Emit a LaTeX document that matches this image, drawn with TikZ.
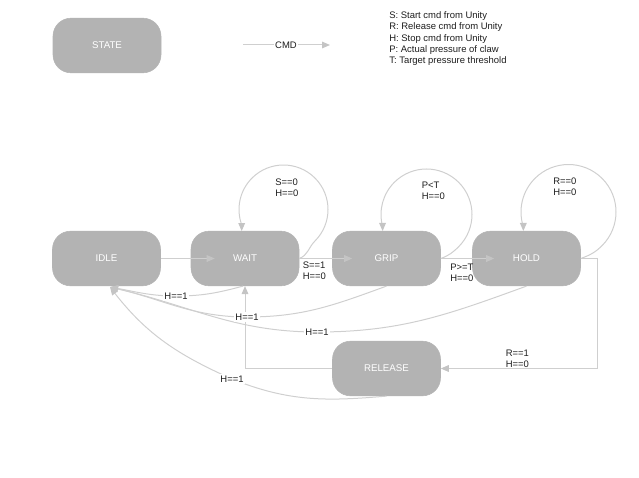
\documentclass[tikz,border=0pt]{standalone}
\usepackage{fontspec}
\setmainfont{Liberation Sans}
\usetikzlibrary{arrows.meta,calc}
\definecolor{nodegray}{HTML}{B3B3B3}
\definecolor{edgegray}{HTML}{CFCFCF}
\definecolor{tipgray}{HTML}{C4C4C4}
\definecolor{txt}{HTML}{1E1E1E}
\begin{document}
\begin{tikzpicture}[x=0.75pt,y=-0.75pt,
  statebox/.style={rectangle, rounded corners=13.5pt, fill=nodegray, draw=nodegray,
    minimum width=81pt, minimum height=41pt, inner sep=0pt, text=white,
    font=\fontsize{7.3}{8.5}\selectfont},
  edge/.style={draw=edgegray, line width=0.75pt, -{Triangle[length=6pt,width=5pt,color=tipgray]}},
  lbl/.style={font=\fontsize{7.1}{8.2}\selectfont, text=txt, align=left, inner sep=0pt},
  hlbl/.style={lbl, fill=white, inner sep=1pt},
]
\useasboundingbox (0,0) rectangle (639,478);

% legend
\node[statebox] (state) at (107,45.5) {STATE};
\coordinate (cmdA) at (243,45);
\coordinate (cmdB) at (330,45);
\draw[edge] (cmdA) -- (cmdB);
\node[hlbl] (cmd) at (286,45) {CMD};
\node[lbl, anchor=north west, font=\fontsize{7.1}{8.45}\selectfont] (legend) at (389,11.5)
  {S: Start cmd from Unity\\R: Release cmd from Unity\\H: Stop cmd from Unity\\P: Actual pressure of claw\\T: Target pressure threshold};

% states
\node[statebox] (idle) at (106.5,258.5) {IDLE};
\node[statebox] (wait) at (245,258.5) {WAIT};
\node[statebox] (grip) at (386.5,258.5) {GRIP};
\node[statebox] (hold) at (526.5,258.5) {HOLD};
\node[statebox] (release) at (386.5,368.5) {RELEASE};

% straight edges
\draw[edge] (idle.east) -- ($(wait.west)+(24,0)$);
\draw[edge] (wait.east) -- ($(grip.west)+(20,0)$);
\draw[edge] (grip.east) -- ($(hold.west)+(22,0)$);
\draw[edge] (hold.east) -- ++(17,0) |- (release.east);
\draw[edge] (release.west) -| (wait.south);

% self loops
\draw[edge] (wait.east) to[out=20,in=-135] (314.97,240.97)
  arc[start angle=45,end angle=-200,radius=44.5] -- ++(0,6.3);
\draw[edge] (grip.east) to[out=20,in=-135] (458.67,246.67)
  arc[start angle=45,end angle=-195,radius=45.5] -- ++(0,4.7);
\draw[edge] (hold.east) to[out=20,in=-135] (602.09,245.59)
  arc[start angle=45,end angle=-198,radius=47.5] -- ++(0,4.3);

% H==1 edges to IDLE
\coordinate (idleIn) at ($(idle.south)+(3.5,1)$);
\coordinate (w1) at (176,296);
\coordinate (g1) at (247,317);
\coordinate (h1) at (317,332);
\coordinate (r1) at (232,379);
\draw[edge] ($(wait.south)+(-2,0)$) to[out=-165,in=0] (w1) to[out=180,in=-10] (idleIn);
\draw[edge] (grip.south) to[out=-160,in=0] (g1) to[out=180,in=-13] (idleIn);
\draw[edge] (hold.south) to[out=-160,in=0] (h1) to[out=180,in=-13] (idleIn);
\draw[edge] (release.south) to[out=-175,in=-22] (r1) to[out=156,in=-52] (idleIn);

% labels
\node[hlbl] (lw1) at (w1) {H==1};
\node[hlbl] (lg1) at (g1) {H==1};
\node[hlbl] (lh1) at (h1) {H==1};
\node[hlbl] (lr1) at (r1) {H==1};
\node[lbl, anchor=west] (lwl) at (275,188) {S==0\\H==0};
\node[lbl, anchor=west] (lgl) at (421.5,190.5) {P<T\\H==0};
\node[lbl, anchor=west] (lhl) at (553,186.5) {R==0\\H==0};
\node[lbl, anchor=west] (lwg) at (302.5,270.5) {S==1\\H==0};
\node[lbl, anchor=west] (lgh) at (450,272.5) {P>=T\\H==0};
\node[lbl, anchor=west] (lhr) at (505.5,359) {R==1\\H==0};
\end{tikzpicture}
\end{document}
